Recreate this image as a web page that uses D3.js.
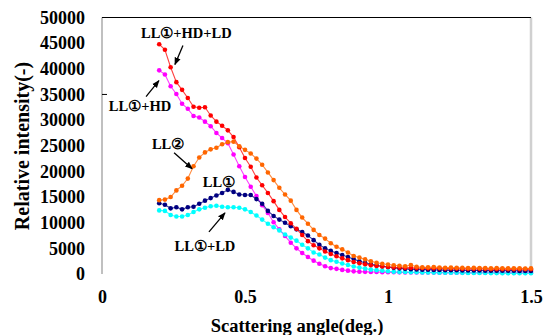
<!DOCTYPE html>
<html>
<head>
<meta charset="utf-8">
<script src="https://cdn.jsdelivr.net/npm/d3@7.9.0/dist/d3.min.js"></script>
<style>
  body { margin: 0; background: #fff; }
  svg text { font-family: 'Liberation Serif', 'Times New Roman', Times, 'DejaVu Serif', serif; font-weight: bold; fill: #000; }
</style>
</head>
<body>
<svg id="chart" width="544" height="335"></svg>
<script>
// Scattering angle (deg.)
const angles = [
  0.20, 0.22, 0.24, 0.26, 0.28, 0.30, 0.32, 0.34, 0.36, 0.38,
  0.40, 0.42, 0.44, 0.46, 0.48, 0.50, 0.52, 0.54, 0.56, 0.58,
  0.60, 0.62, 0.64, 0.66, 0.68, 0.70, 0.72, 0.74, 0.76, 0.78,
  0.80, 0.82, 0.84, 0.86, 0.88, 0.90, 0.92, 0.94, 0.96, 0.98,
  1.00, 1.02, 1.04, 1.06, 1.08, 1.10, 1.12, 1.14, 1.16, 1.18,
  1.20, 1.22, 1.24, 1.26, 1.28, 1.30, 1.32, 1.34, 1.36, 1.38,
  1.40, 1.42, 1.44, 1.46, 1.48, 1.50
];

// Relative intensity for each sample
const ll1HdLd = [
  44800, 43700, 40300, 37400, 35900, 34300, 32600, 32400, 32500, 30900,
  29700, 28900, 28000, 26700, 24700, 22600, 20900, 18800, 17300, 15800,
  14200, 12500, 11100, 9900, 8800, 7600, 6400, 5600, 5000, 4400,
  3900, 3450, 3050, 2700, 2350, 2100, 1900, 1700, 1550, 1450,
  1350, 1300, 1250, 1200, 1200, 1150, 1150, 1100, 1100, 1100,
  1050, 1050, 1050, 1000, 1000, 1000, 1000, 1000, 950, 950,
  950, 950, 950, 950, 950, 950
];
const ll1Hd = [
  39700, 38900, 36600, 35100, 33200, 32200, 30800, 30500, 29700, 28800,
  27500, 26500, 25500, 23300, 21000, 18900, 17000, 15200, 13400, 11900,
  10100, 8700, 7400, 6100, 5000, 4100, 3300, 2600, 2000, 1500,
  1150, 1000, 800, 650, 520, 460, 420, 400, 380, 360,
  350, 330, 320, 300, 300, 300, 280, 280, 270, 260,
  260, 250, 250, 250, 240, 240, 240, 230, 230, 230,
  220, 220, 220, 220, 220, 220
];
const ll2 = [
  14400, 14500, 15000, 16300, 17200, 18600, 21000, 22700, 23700, 24300,
  24600, 25300, 25700, 25800, 24900, 24200, 23500, 22500, 21300, 19800,
  18300, 16800, 15500, 14300, 12500, 11000, 9800, 8600, 7600, 6900,
  6000, 5300, 4800, 4200, 3500, 3200, 2850, 2500, 2200, 2000,
  1850, 1700, 1600, 1500, 1750, 1400, 1300, 1300, 1350, 1250,
  1200, 1250, 1200, 1200, 1150, 1200, 1150, 1150, 1100, 1150,
  1100, 1100, 1100, 1100, 1050, 1100
];
const ll1 = [
  13800, 13500, 12800, 13000, 12600, 13000, 13100, 13700, 14300, 14800,
  15300, 15800, 16400, 16000, 15500, 15400, 15400, 14600, 13700, 12300,
  11300, 10600, 10000, 9300, 8700, 8200, 7500, 6600, 5700, 5000,
  4500, 4100, 3700, 3300, 2900, 2500, 2200, 1900, 1700, 1500,
  1350, 1200, 1100, 1000, 950, 900, 850, 850, 800, 800,
  750, 750, 750, 700, 700, 700, 700, 650, 650, 650,
  650, 650, 650, 600, 600, 600
];
const ll1Ld = [
  12400, 12300, 11500, 11200, 11200, 11500, 12100, 12600, 12900, 13200,
  13300, 13100, 13000, 13000, 12900, 12600, 12100, 11400, 10600, 9800,
  9100, 8500, 7700, 7100, 6500, 5700, 5000, 4200, 3800, 3200,
  2700, 2400, 2050, 1750, 1450, 1250, 1050, 850, 750, 650,
  550, 450, 400, 380, 350, 330, 300, 280, 270, 260,
  250, 240, 230, 220, 210, 200, 200, 190, 180, 180,
  170, 170, 160, 160, 150, 150
];

// Drawing order: last one ends on top
const series = [
  { name: 'LL①+HD', values: ll1Hd, color: '#ff00ff' },
  { name: 'LL①+LD', values: ll1Ld, color: '#00ffff' },
  { name: 'LL①', values: ll1, color: '#000080' },
  { name: 'LL①+HD+LD', values: ll1HdLd, color: '#ff0000' },
  { name: 'LL②', values: ll2, color: '#ff6600' }
];

const xTicks = [0, 0.5, 1, 1.5];
const yTicks = [0, 5000, 10000, 15000, 20000, 25000, 30000, 35000, 40000, 45000, 50000];

// Labels with optional arrow, in data units
const notes = [
  { text: 'LL①+HD+LD', at: [0.295, 47070], arrow: [[0.283, 44530], [0.255, 40820]] },
  { text: 'LL①+HD', at: [0.133, 32810], arrow: [[0.154, 34570], [0.199, 37700]] },
  { text: 'LL②', at: [0.231, 25390], arrow: [[0.252, 23630], [0.315, 20500]] },
  { text: 'LL①', at: [0.409, 17970], arrow: null },
  { text: 'LL①+LD', at: [0.36, 5470], arrow: [[0.374, 8200], [0.43, 11910]] }
];

const serif = "'Liberation Serif', 'Times New Roman', Times, 'DejaVu Serif', serif";
const svg = d3.select('#chart');
const plotLeft = 102, plotRight = 531, plotTop = 17.5, plotBottom = 274;

const x = d3.scaleLinear().domain([0, 1.5]).range([plotLeft, plotRight]);
const y = d3.scaleLinear().domain([0, 50000]).range([plotBottom, plotTop]);

// Frame: grey left/right, black top
svg.append('line').attr('x1', plotLeft).attr('x2', plotLeft).attr('y1', plotTop).attr('y2', plotBottom)
  .attr('stroke', '#c0c0c0').attr('stroke-width', 2);
svg.append('line').attr('x1', plotRight).attr('x2', plotRight).attr('y1', plotTop).attr('y2', plotBottom + 1)
  .attr('stroke', '#d0d0d0').attr('stroke-width', 2.5);
svg.append('line').attr('x1', plotLeft).attr('x2', plotRight).attr('y1', plotTop).attr('y2', plotTop)
  .attr('stroke', '#000').attr('stroke-width', 1);
svg.append('line').attr('x1', plotLeft).attr('x2', plotLeft + 5).attr('y1', y(35000)).attr('y2', y(35000))
  .attr('stroke', '#000').attr('stroke-width', 1);

// Axes (labels only)
const yAxis = svg.append('g')
  .attr('transform', `translate(${plotLeft},0)`)
  .call(d3.axisLeft(y).tickValues(yTicks).tickSize(0).tickPadding(17).tickFormat(d3.format('d')));
const xAxis = svg.append('g')
  .attr('transform', `translate(0,${plotBottom})`)
  .call(d3.axisBottom(x).tickValues(xTicks).tickSize(0).tickPadding(16).tickFormat((d) => d));
[yAxis, xAxis].forEach((g) => {
  g.attr('font-family', serif).attr('font-size', 18).attr('font-weight', 'bold');
  g.select('.domain').remove();
});

svg.append('text')
  .attr('transform', 'translate(29,146) rotate(-90)')
  .attr('text-anchor', 'middle')
  .attr('font-family', serif)
  .attr('font-size', 20)
  .text('Relative intensity(-)');

svg.append('text')
  .attr('x', 297).attr('y', 332)
  .attr('text-anchor', 'middle')
  .attr('font-family', serif)
  .attr('font-size', 18.5)
  .text('Scattering angle(deg.)');

// Lines and markers
const line = d3.line()
  .x((d, i) => x(angles[i]))
  .y((d) => y(d));

series.forEach((s) => {
  const g = svg.append('g');
  g.append('path')
    .attr('d', line(s.values))
    .attr('fill', 'none')
    .attr('stroke', s.color)
    .attr('stroke-opacity', 0.75)
    .attr('stroke-width', 1.1);
  g.selectAll('circle')
    .data(s.values)
    .join('circle')
    .attr('cx', (d, i) => x(angles[i]))
    .attr('cy', (d) => y(d))
    .attr('r', 2.3)
    .attr('fill', s.color);
});

// Annotations
svg.append('defs').append('marker')
  .attr('id', 'head')
  .attr('viewBox', '0 0 10 10')
  .attr('refX', 9).attr('refY', 5)
  .attr('markerWidth', 6).attr('markerHeight', 6)
  .attr('orient', 'auto')
  .append('path')
  .attr('d', 'M0,1 L10,5 L0,9 Z')
  .attr('fill', '#000');

notes.forEach((n) => {
  svg.append('text')
    .attr('x', x(n.at[0])).attr('y', y(n.at[1]))
    .attr('dy', '0.35em')
    .attr('text-anchor', 'middle')
    .attr('font-family', serif)
    .attr('font-size', 14.5)
    .text(n.text);
  if (n.arrow) {
    svg.append('line')
      .attr('x1', x(n.arrow[0][0])).attr('y1', y(n.arrow[0][1]))
      .attr('x2', x(n.arrow[1][0])).attr('y2', y(n.arrow[1][1]))
      .attr('stroke', '#000').attr('stroke-width', 1.3)
      .attr('marker-end', 'url(#head)');
  }
});
</script>
</body>
</html>
